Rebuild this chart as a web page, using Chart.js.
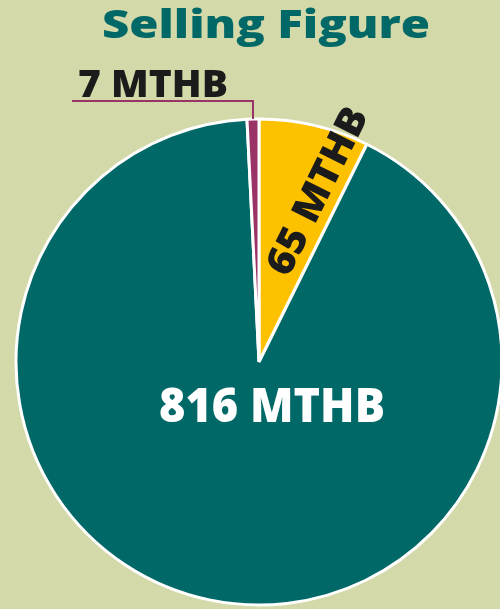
<!DOCTYPE html>
<html>
<head>
<meta charset="utf-8">
<script src="https://cdn.jsdelivr.net/npm/chart.js@4.4.1/dist/chart.umd.min.js"></script>
<style>
  html, body { margin: 0; padding: 0; background: #d3d9a8; }
  canvas { display: block; }
</style>
</head>
<body>
<canvas id="pieChart" width="500" height="609"></canvas>
<script>
// data
var titleText = 'Selling Figure';
var categories = ['Yellow', 'Teal', 'Purple'];
var values = [65, 816, 7];
var valueLabels = ['65 MTHB', '816 MTHB', '7 MTHB'];
var colors = ['#fec100', '#006866', '#9a3466'];

var ctx = document.getElementById('pieChart').getContext('2d');

// write text stretched to a given width (the original uses a wide font)
function fitText(c, text, x, y, width) {
    var w = c.measureText(text).width;
    c.save();
    c.translate(x, y);
    c.scale(width / w, 1);
    c.fillText(text, 0, 0);
    c.restore();
}

// draws title, slice labels and the callout line for the small slice
var labelPlugin = {
    id: 'labelPlugin',
    afterDraw: function (chart) {
        var c = chart.ctx;
        var arcs = chart.getDatasetMeta(0).data;
        var cx = arcs[0].x, cy = arcs[0].y, r = arcs[0].outerRadius;

        c.save();
        c.textAlign = 'center';
        c.textBaseline = 'alphabetic';

        // title
        c.fillStyle = '#006866';
        c.font = '800 39px "Open Sans"';
        fitText(c, titleText, 266, 38, 328);

        // big slice label
        c.fillStyle = '#ffffff';
        c.font = '800 48px "Open Sans"';
        fitText(c, valueLabels[1], cx + 13, cy + 60, 226);

        // yellow slice label, rotated along the slice edge
        c.save();
        c.translate(cx, cy);
        c.rotate(arcs[0].endAngle);
        c.fillStyle = '#1b1b1b';
        c.font = '800 39px "Open Sans"';
        c.textBaseline = 'middle';
        fitText(c, valueLabels[0], 179, -22, 182);
        c.restore();

        // purple slice: callout line + label
        var p = arcs[2];
        var mid = (p.startAngle + p.endAngle) / 2;
        var ex = cx + Math.cos(mid) * r;
        var ey = cy + Math.sin(mid) * r;
        c.strokeStyle = '#9a3466';
        c.lineWidth = 2;
        c.beginPath();
        c.moveTo(ex, ey);
        c.lineTo(ex, cy - r - 18);
        c.lineTo(cx - 187, cy - r - 18);
        c.stroke();

        c.fillStyle = '#1b1b1b';
        c.font = '800 37px "Open Sans"';
        c.textAlign = 'left';
        fitText(c, valueLabels[2], cx - 181, cy - r - 22, 150);
        c.restore();
    }
};

var pieChart = new Chart(ctx, {
    type: 'pie',
    data: {
        labels: categories,
        datasets: [{
            data: values,
            backgroundColor: colors,
            borderColor: '#ffffff',
            borderWidth: 3,
        }]
    },
    options: {
        responsive: false,
        maintainAspectRatio: false,
        animation: false,
        radius: 243,
        layout: {
            padding: { left: 18, right: 0, top: 115, bottom: 0 }
        },
        plugins: {
            legend: { display: false },
            tooltip: { enabled: false },
        }
    },
    plugins: [labelPlugin]
});
</script>
</body>
</html>
